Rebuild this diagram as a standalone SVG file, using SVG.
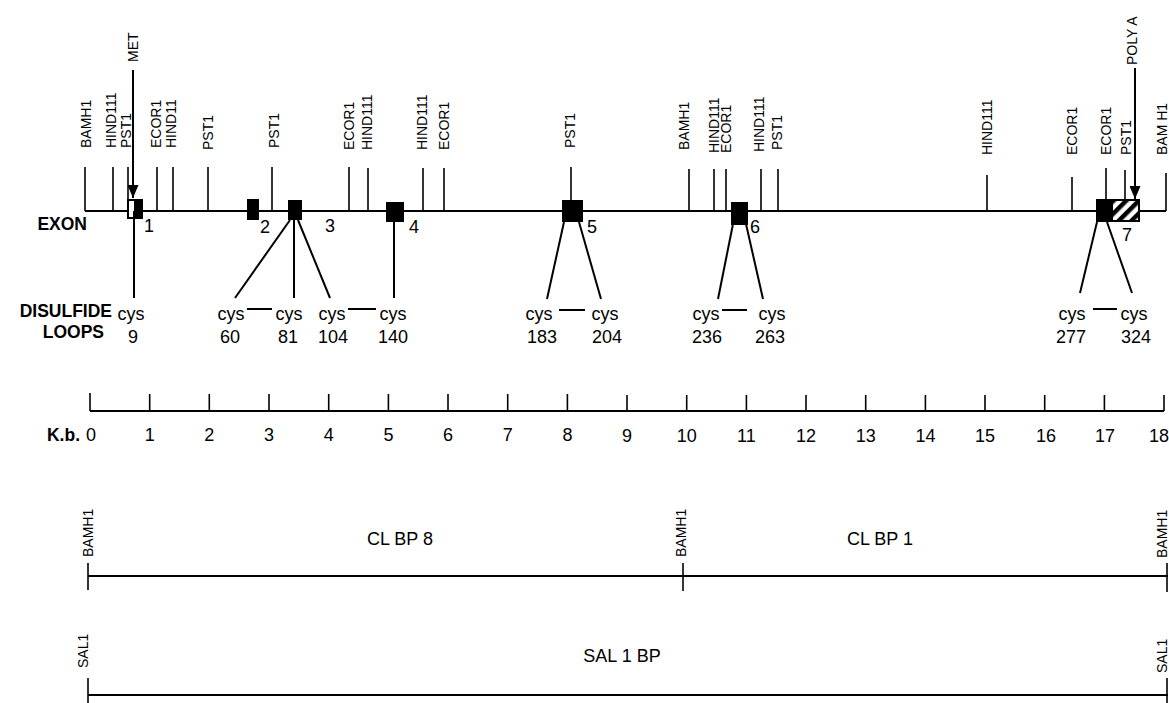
<svg xmlns="http://www.w3.org/2000/svg" width="1169" height="703" viewBox="0 0 1169 703">
<style>
text{font-family:"Liberation Sans",Arial,sans-serif;fill:#000}
.site{font-size:14px}
.big{font-size:18px}
.bold{font-size:17.5px;font-weight:bold}
.ln{stroke:#000;stroke-width:2;fill:none}
.tk{stroke:#000;stroke-width:1.6;fill:none}
.exon{fill:#000}
</style>
<defs>
<marker id="arr" viewBox="0 0 13 11" refX="13" refY="5.5" markerWidth="13" markerHeight="11" markerUnits="userSpaceOnUse" orient="auto">
<path d="M0,0 L13,5.5 L0,11 Z" fill="#000"/>
</marker>
<pattern id="hatch" patternUnits="userSpaceOnUse" width="9" height="9" patternTransform="rotate(45)">
<rect width="9" height="9" fill="#fff"/>
<rect x="0" width="4.5" height="9" fill="#000"/>
</pattern>
</defs>
<rect width="1169" height="703" fill="#fff"/>

<g id="map">
<line class="ln" x1="85" y1="211" x2="1166" y2="211"/>
<g id="sites" class="tk">
<line x1="85" y1="167" x2="85" y2="211"/>
<line x1="113" y1="167" x2="113" y2="211"/>
<line x1="128" y1="167" x2="128" y2="211"/>
<line x1="157" y1="167" x2="157" y2="211"/>
<line x1="173" y1="167" x2="173" y2="211"/>
<line x1="208" y1="167" x2="208" y2="211"/>
<line x1="272" y1="167" x2="272" y2="211"/>
<line x1="349" y1="167" x2="349" y2="211"/>
<line x1="368" y1="168" x2="368" y2="211"/>
<line x1="423" y1="168" x2="423" y2="211"/>
<line x1="444" y1="168" x2="444" y2="211"/>
<line x1="571" y1="167" x2="571" y2="211"/>
<line x1="689" y1="169" x2="689" y2="211"/>
<line x1="714" y1="169" x2="714" y2="211"/>
<line x1="726" y1="169" x2="726" y2="211"/>
<line x1="761" y1="169" x2="761" y2="211"/>
<line x1="778" y1="169" x2="778" y2="211"/>
<line x1="987" y1="175" x2="987" y2="211"/>
<line x1="1072" y1="177" x2="1072" y2="211"/>
<line x1="1106" y1="168" x2="1106" y2="211"/>
<line x1="1125" y1="170" x2="1125" y2="211"/>
<line x1="1166" y1="173" x2="1166" y2="211"/>
</g>
<g id="site-labels" class="site">
<text transform="translate(86,148) rotate(-90)" dy="0.35em">BAMH1</text>
<text transform="translate(111,148) rotate(-90)" dy="0.35em">HIND111</text>
<text transform="translate(126,148) rotate(-90)" dy="0.35em">PST1</text>
<text transform="translate(133,62) rotate(-90)" dy="0.35em">MET</text>
<text transform="translate(156,148) rotate(-90)" dy="0.35em">ECOR1</text>
<text transform="translate(171.5,148) rotate(-90)" dy="0.35em">HIND11</text>
<text transform="translate(208,150) rotate(-90)" dy="0.35em">PST1</text>
<text transform="translate(274,148) rotate(-90)" dy="0.35em">PST1</text>
<text transform="translate(349,150) rotate(-90)" dy="0.35em">ECOR1</text>
<text transform="translate(367,150) rotate(-90)" dy="0.35em">HIND111</text>
<text transform="translate(422.5,150) rotate(-90)" dy="0.35em">HIND111</text>
<text transform="translate(444,150) rotate(-90)" dy="0.35em">ECOR1</text>
<text transform="translate(570,148) rotate(-90)" dy="0.35em">PST1</text>
<text transform="translate(684,150) rotate(-90)" dy="0.35em">BAMH1</text>
<text transform="translate(714,153) rotate(-90)" dy="0.35em">HIND111</text>
<text transform="translate(726,153) rotate(-90)" dy="0.35em">ECOR1</text>
<text transform="translate(759,152) rotate(-90)" dy="0.35em">HIND111</text>
<text transform="translate(777.5,150) rotate(-90)" dy="0.35em">PST1</text>
<text transform="translate(987.5,155) rotate(-90)" dy="0.35em">HIND111</text>
<text transform="translate(1072.5,155) rotate(-90)" dy="0.35em">ECOR1</text>
<text transform="translate(1106,155) rotate(-90)" dy="0.35em">ECOR1</text>
<text transform="translate(1126,155) rotate(-90)" dy="0.35em">PST1</text>
<text transform="translate(1132.5,65) rotate(-90)" dy="0.35em">POLY A</text>
<text transform="translate(1162,155) rotate(-90)" dy="0.35em">BAM H1</text>
</g>
</g>

<g id="exons">
<g id="exon1"><rect x="128" y="200" width="14" height="18" fill="#fff" stroke="#000" stroke-width="2"/><rect class="exon" x="134" y="200" width="9" height="18"/><text class="big" x="144" y="232">1</text></g>
<g id="exon2"><rect class="exon" x="247" y="199" width="12" height="21"/><text class="big" x="260" y="233">2</text></g>
<g id="exon3"><rect class="exon" x="288" y="200" width="14" height="20"/><text class="big" x="325" y="232">3</text></g>
<g id="exon4"><rect class="exon" x="386" y="202" width="18" height="20"/><text class="big" x="409" y="233">4</text></g>
<g id="exon5"><rect class="exon" x="562" y="200" width="21" height="22"/><text class="big" x="587" y="233">5</text></g>
<g id="exon6"><rect class="exon" x="731" y="202" width="17" height="23"/><text class="big" x="750" y="233">6</text></g>
<g id="exon7"><rect class="exon" x="1096" y="199" width="16" height="23"/><rect x="1112" y="200" width="27" height="21" fill="url(#hatch)" stroke="#000" stroke-width="2"/><text class="big" x="1122" y="241">7</text></g>
</g>

<g id="connectors" class="ln">
<line x1="133" y1="70" x2="133" y2="198" marker-end="url(#arr)"/>
<line x1="1135" y1="68" x2="1135" y2="199" marker-end="url(#arr)"/>
<line x1="134" y1="211" x2="134" y2="298"/>
<line x1="290" y1="220" x2="235" y2="298"/>
<line x1="294" y1="220" x2="294" y2="298"/>
<line x1="298" y1="220" x2="330" y2="298"/>
<line x1="394" y1="222" x2="394" y2="298"/>
<line x1="564" y1="222" x2="547" y2="299"/>
<line x1="579" y1="222" x2="601" y2="299"/>
<line x1="733" y1="224" x2="718" y2="299"/>
<line x1="746" y1="224" x2="763" y2="299"/>
<line x1="1097" y1="222" x2="1080" y2="293"/>
<line x1="1107" y1="222" x2="1132" y2="293"/>
<line x1="247" y1="309" x2="272" y2="309"/>
<line x1="348" y1="309" x2="376" y2="309"/>
<line x1="559" y1="310" x2="585" y2="310"/>
<line x1="722" y1="310" x2="747" y2="310"/>
<line x1="1093" y1="309" x2="1117" y2="309"/>
</g>

<g id="row-labels">
<text class="bold" x="87" y="230" text-anchor="end">EXON</text>
<text class="bold" x="112" y="317" text-anchor="end">DISULFIDE</text>
<text class="bold" x="104" y="338" text-anchor="end">LOOPS</text>
</g>

<g id="cys" class="big">
<text x="131" y="320" text-anchor="middle">cys</text><text x="133" y="343" text-anchor="middle">9</text>
<text x="231" y="320" text-anchor="middle">cys</text><text x="230" y="343" text-anchor="middle">60</text>
<text x="289" y="320" text-anchor="middle">cys</text><text x="288" y="343" text-anchor="middle">81</text>
<text x="332" y="320" text-anchor="middle">cys</text><text x="333" y="343" text-anchor="middle">104</text>
<text x="393" y="320" text-anchor="middle">cys</text><text x="393" y="343" text-anchor="middle">140</text>
<text x="539" y="320" text-anchor="middle">cys</text><text x="542" y="343" text-anchor="middle">183</text>
<text x="605" y="320" text-anchor="middle">cys</text><text x="607" y="343" text-anchor="middle">204</text>
<text x="706" y="320" text-anchor="middle">cys</text><text x="707" y="343" text-anchor="middle">236</text>
<text x="772" y="320" text-anchor="middle">cys</text><text x="770" y="343" text-anchor="middle">263</text>
<text x="1072" y="320" text-anchor="middle">cys</text><text x="1071" y="343" text-anchor="middle">277</text>
<text x="1134" y="320" text-anchor="middle">cys</text><text x="1136" y="343" text-anchor="middle">324</text>
</g>

<g id="scale">
<line class="ln" x1="90" y1="411" x2="1164" y2="411"/>
<g class="tk">
<line x1="90" y1="393" x2="90" y2="411"/>
<line x1="149.7" y1="394" x2="149.7" y2="411"/>
<line x1="209.3" y1="394" x2="209.3" y2="411"/>
<line x1="269" y1="394" x2="269" y2="411"/>
<line x1="328.7" y1="394" x2="328.7" y2="411"/>
<line x1="388.4" y1="394" x2="388.4" y2="411"/>
<line x1="448" y1="394" x2="448" y2="411"/>
<line x1="507.7" y1="394" x2="507.7" y2="411"/>
<line x1="567.4" y1="394" x2="567.4" y2="411"/>
<line x1="627" y1="395" x2="627" y2="411"/>
<line x1="686.7" y1="395" x2="686.7" y2="411"/>
<line x1="746.4" y1="395" x2="746.4" y2="411"/>
<line x1="806" y1="395" x2="806" y2="411"/>
<line x1="865.7" y1="395" x2="865.7" y2="411"/>
<line x1="925.4" y1="395" x2="925.4" y2="411"/>
<line x1="985" y1="395" x2="985" y2="411"/>
<line x1="1044.7" y1="395" x2="1044.7" y2="411"/>
<line x1="1104.4" y1="395" x2="1104.4" y2="411"/>
<line x1="1164" y1="395" x2="1164" y2="411"/>
</g>
<text class="bold" x="80" y="441" text-anchor="end">K.b.</text>
<g class="big" text-anchor="middle">
<text x="91" y="441">0</text>
<text x="149.7" y="441">1</text>
<text x="209.3" y="441">2</text>
<text x="269" y="441">3</text>
<text x="328.7" y="441">4</text>
<text x="388.4" y="441">5</text>
<text x="448" y="441">6</text>
<text x="507.7" y="441">7</text>
<text x="567.4" y="441">8</text>
<text x="627" y="442">9</text>
<text x="686.7" y="442">10</text>
<text x="746.4" y="442">11</text>
<text x="806" y="442">12</text>
<text x="865.7" y="442">13</text>
<text x="925.4" y="442">14</text>
<text x="985" y="442">15</text>
<text x="1046" y="442">16</text>
<text x="1105" y="442">17</text>
<text x="1169" y="442" text-anchor="end">18</text>
</g>
</g>

<g id="clone-bamh1">
<line class="ln" x1="88" y1="576" x2="1168" y2="576"/>
<g class="tk">
<line x1="88" y1="563" x2="88" y2="590"/>
<line x1="683" y1="563" x2="683" y2="591"/>
<line x1="1167" y1="563" x2="1167" y2="592"/>
</g>
<g class="site">
<text transform="translate(88,557) rotate(-90)" dy="0.35em">BAMH1</text>
<text transform="translate(681,557) rotate(-90)" dy="0.35em">BAMH1</text>
<text transform="translate(1162,558) rotate(-90)" dy="0.35em">BAMH1</text>
</g>
<text class="big" x="400" y="545" text-anchor="middle">CL BP 8</text>
<text class="big" x="880" y="545" text-anchor="middle">CL BP 1</text>
</g>

<g id="clone-sal1">
<line class="ln" x1="88" y1="695" x2="1168" y2="695"/>
<g class="tk">
<line x1="88" y1="678" x2="88" y2="703"/>
<line x1="1167" y1="678" x2="1167" y2="703"/>
</g>
<g class="site">
<text transform="translate(83,668) rotate(-90)" dy="0.35em">SAL1</text>
<text transform="translate(1162,673) rotate(-90)" dy="0.35em">SAL1</text>
</g>
<text class="big" x="622" y="662" text-anchor="middle">SAL 1 BP</text>
</g>
</svg>
